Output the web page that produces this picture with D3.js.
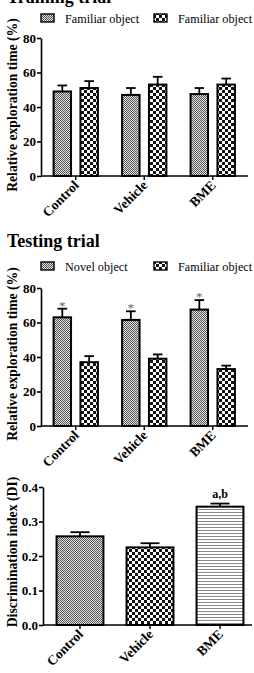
<!DOCTYPE html>
<html>
<head>
<meta charset="utf-8">
<script src="https://cdn.jsdelivr.net/npm/d3@7"></script>
<style>
  body { margin: 0; background: #fff; }
  text { font-family: "Liberation Serif", "Times New Roman", serif; }
</style>
</head>
<body>
<div id="chart-area"></div>
<script>
// SVG Size
let width = 254,
	height = 673;

// data
const groups = ["Control", "Vehicle", "BME"];

const trainFam1    = [49, 47, 47.5];
const trainFam1Err = [3.5, 4, 3.5];
const trainFam2    = [51, 53, 53];
const trainFam2Err = [4, 4.5, 3.5];

const testNovel    = [63, 61.5, 67.5];
const testNovelErr = [5, 5, 5.5];
const testFam      = [37, 39, 33];
const testFamErr   = [3.5, 2.5, 2];

const diValues = [0.257, 0.225, 0.343];
const diErr    = [0.012, 0.012, 0.009];

const pctTicks = [0, 20, 40, 60, 80];
const diTicks  = [0, 0.1, 0.2, 0.3, 0.4];

let svg = d3.select("#chart-area")
	.append("svg")
	.attr("width", width)
	.attr("height", height);

// patterns
let defs = svg.append("defs");

let dots = defs.append("pattern")
	.attr("id", "dots").attr("patternUnits", "userSpaceOnUse")
	.attr("width", 2).attr("height", 2);
dots.append("rect").attr("width", 2).attr("height", 2).attr("fill", "#e2e2e2");
dots.append("rect").attr("width", 1).attr("height", 1).attr("fill", "#555");
dots.append("rect").attr("x", 1).attr("y", 1).attr("width", 1).attr("height", 1).attr("fill", "#555");

let checker = defs.append("pattern")
	.attr("id", "checker").attr("patternUnits", "userSpaceOnUse")
	.attr("width", 6).attr("height", 6);
checker.append("rect").attr("width", 6).attr("height", 6).attr("fill", "#fff");
checker.append("rect").attr("width", 3).attr("height", 3).attr("fill", "#111");
checker.append("rect").attr("x", 3).attr("y", 3).attr("width", 3).attr("height", 3).attr("fill", "#111");

let hlines = defs.append("pattern")
	.attr("id", "hlines").attr("patternUnits", "userSpaceOnUse")
	.attr("width", 4).attr("height", 3);
hlines.append("rect").attr("width", 4).attr("height", 3).attr("fill", "#fff");
hlines.append("rect").attr("y", 2).attr("width", 4).attr("height", 1).attr("fill", "#888");

// axis helpers
function drawAxes(x, y, ticks, fmt, x0, x1, yLabel, labelY) {
	let yAxis = d3.axisLeft(y).tickValues(ticks).tickFormat(fmt).tickSize(4).tickSizeOuter(0);
	let gy = svg.append("g")
		.attr("transform", "translate(" + x0 + ",0)")
		.call(yAxis);
	gy.select(".domain").attr("stroke-width", 1.6);
	gy.selectAll(".tick line").attr("stroke-width", 1.6);
	gy.selectAll(".tick text")
		.style("font-size", "13px").style("font-weight", "bold")
		.attr("x", -5);

	// x axis
	let base = y(0);
	svg.append("line")
		.attr("x1", x0).attr("x2", x1)
		.attr("y1", base).attr("y2", base)
		.attr("stroke", "black").attr("stroke-width", 1.6);

	groups.forEach(g => {
		let cx = x(g) + x.bandwidth() / 2;
		svg.append("line")
			.attr("x1", cx).attr("x2", cx)
			.attr("y1", base).attr("y2", base + 4)
			.attr("stroke", "black").attr("stroke-width", 1.4);
		svg.append("text")
			.text(g)
			.attr("transform", "translate(" + (cx + 4) + "," + (base + 10) + ") rotate(-45)")
			.style("text-anchor", "end")
			.style("font-size", "13.5px")
			.style("font-weight", "bold");
	});

	svg.append("text")
		.text(yLabel)
		.attr("transform", "translate(17," + labelY + ") rotate(-90)")
		.style("text-anchor", "middle")
		.style("font-size", "13.7px")
		.style("font-weight", "bold");
}

function drawBar(xpos, w, y, v, e, fill) {
	svg.append("rect")
		.attr("x", xpos).attr("width", w)
		.attr("y", y(v)).attr("height", y(0) - y(v))
		.attr("fill", "url(#" + fill + ")")
		.attr("stroke", "black").attr("stroke-width", 2);
	let cx = xpos + w / 2,
		cap = Math.min(w * 0.55, 19);
	svg.append("line")
		.attr("x1", cx).attr("x2", cx).attr("y1", y(v)).attr("y2", y(v + e))
		.attr("stroke", "black").attr("stroke-width", 1.8);
	svg.append("line")
		.attr("x1", cx - cap / 2).attr("x2", cx + cap / 2).attr("y1", y(v + e)).attr("y2", y(v + e))
		.attr("stroke", "black").attr("stroke-width", 1.8);
}

function legend(yy, labels, fills) {
	let xs = [41, 154];
	labels.forEach((l, i) => {
		svg.append("rect")
			.attr("x", xs[i]).attr("y", yy - 4).attr("width", 13).attr("height", 8)
			.attr("fill", "url(#" + fills[i] + ")")
			.attr("stroke", "black").attr("stroke-width", 1.4);
		svg.append("text")
			.text(l)
			.attr("x", xs[i] + 24).attr("y", yy + 4.5)
			.style("font-size", "12.2px");
	});
}

function groupedPanel(top, base, a, aErr, b, bErr, stars, labelY) {
	let x = d3.scaleBand().domain(groups).range([41.5, 247]);
	let inner = d3.scaleBand().domain([0, 1]).range([0, x.bandwidth()])
		.paddingInner(0.35).paddingOuter(0.45);
	let y = d3.scaleLinear().domain([0, 80]).range([base, top]);

	groups.forEach((g, i) => {
		drawBar(x(g) + inner(0), inner.bandwidth(), y, a[i], aErr[i], "dots");
		drawBar(x(g) + inner(1), inner.bandwidth(), y, b[i], bErr[i], "checker");
		if (stars) {
			svg.append("text")
				.text("*")
				.attr("x", x(g) + inner(0) + inner.bandwidth() / 2)
				.attr("y", y(a[i] + aErr[i]) + 1)
				.style("text-anchor", "middle")
				.style("font-size", "13px")
				.attr("fill", "#666");
		}
	});
	drawAxes(x, y, pctTicks, d3.format("d"), 41, 248, "Relative exploration time (%)", labelY);
}

// Training trial
svg.append("text")
	.text("Training trial")
	.attr("x", 7).attr("y", 3)
	.style("font-size", "18px").style("font-weight", "bold");
legend(18, ["Familiar object", "Familiar object"], ["dots", "checker"]);
groupedPanel(38, 176, trainFam1, trainFam1Err, trainFam2, trainFam2Err, false, 105);

// Testing trial
svg.append("text")
	.text("Testing trial")
	.attr("x", 7).attr("y", 247)
	.style("font-size", "18px").style("font-weight", "bold");
legend(266, ["Novel object", "Familiar object"], ["dots", "checker"]);
groupedPanel(288, 426, testNovel, testNovelErr, testFam, testFamErr, true, 354);

// Discrimination index
let xDI = d3.scaleBand().domain(groups).range([45, 255]).paddingInner(0.33).paddingOuter(0.165);
let yDI = d3.scaleLinear().domain([0, 0.4]).range([625, 487]);
let diFills = ["dots", "checker", "hlines"];
groups.forEach((g, i) => {
	drawBar(xDI(g), xDI.bandwidth(), yDI, diValues[i], diErr[i], diFills[i]);
});
svg.append("text")
	.text("a,b")
	.attr("x", xDI("BME") + xDI.bandwidth() / 2)
	.attr("y", yDI(diValues[2] + diErr[2]) - 6)
	.style("text-anchor", "middle")
	.style("font-size", "12px")
	.style("font-weight", "bold");
drawAxes(xDI, yDI, diTicks, d3.format(".1f"), 43, 252, "Discrimination index (DI)", 552);
</script>
</body>
</html>
